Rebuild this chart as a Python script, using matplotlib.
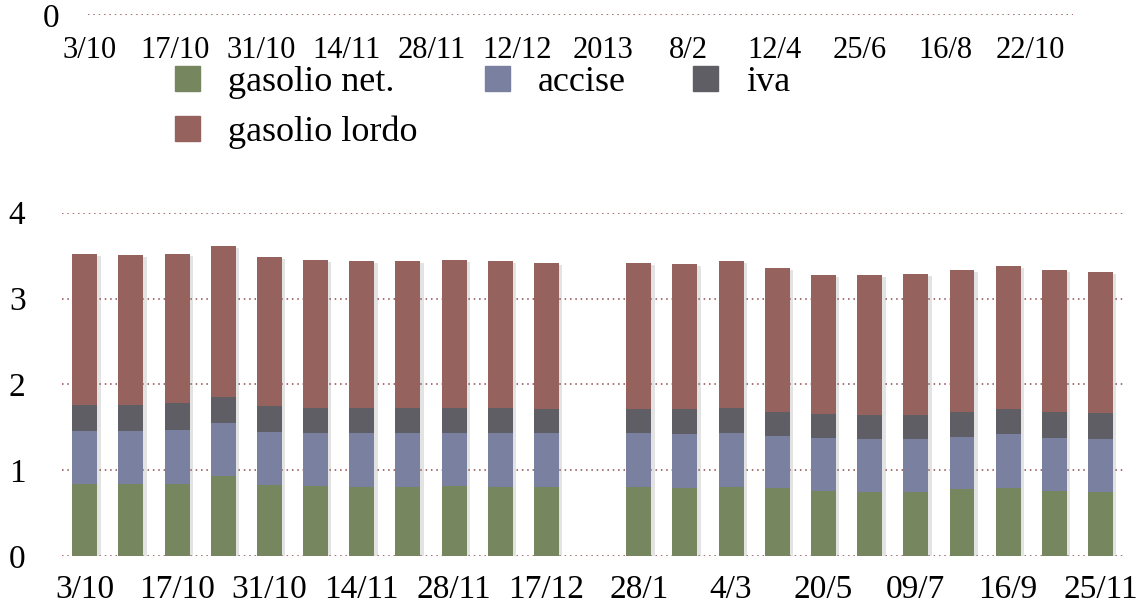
import matplotlib.pyplot as plt
import matplotlib.patheffects as pe
from matplotlib.patches import Patch
import numpy as np

plt.rcParams['font.family'] = ['Liberation Serif', 'DejaVu Serif']

# prezzi gasolio (euro/litro), uno slot vuoto tra 17/12 e 28/1
nan = np.nan
gasolio_net = [0.84, 0.84, 0.84, 0.94, 0.83, 0.82, 0.81, 0.81, 0.82, 0.81, 0.81, nan,
               0.81, 0.80, 0.81, 0.79, 0.76, 0.75, 0.75, 0.78, 0.80, 0.76, 0.75]
accise = [0.62, 0.62, 0.63, 0.61, 0.62, 0.62, 0.62, 0.62, 0.62, 0.63, 0.62, nan,
          0.62, 0.62, 0.62, 0.61, 0.62, 0.62, 0.62, 0.61, 0.62, 0.62, 0.62]
iva = [0.30, 0.30, 0.31, 0.30, 0.30, 0.29, 0.30, 0.30, 0.29, 0.29, 0.28, nan,
       0.28, 0.29, 0.30, 0.28, 0.28, 0.28, 0.28, 0.29, 0.29, 0.30, 0.30]
gasolio_lordo = [1.76, 1.75, 1.74, 1.76, 1.73, 1.72, 1.71, 1.71, 1.72, 1.71, 1.71, nan,
                 1.71, 1.69, 1.71, 1.68, 1.61, 1.62, 1.64, 1.65, 1.67, 1.65, 1.64]

tick_labels = ['3/10', '17/10', '31/10', '14/11', '28/11', '17/12',
               '28/1', '4/3', '20/5', '09/7', '16/9', '25/11']
top_labels = ['3/10', '17/10', '31/10', '14/11', '28/11', '12/12',
              '2013', '8/2', '12/4', '25/6', '16/8', '22/10']

colors = ['#768760', '#7a80a0', '#5f5e64', '#96625e']
grid_color = '#8c4848'
W, H = 1136, 609

fig = plt.figure(figsize=(W / 100, H / 100), dpi=100)

# grafico principale
ax = fig.add_axes([61.6 / W, 1 - 556.3 / H, 1062 / W, 343.6 / H])
x = np.arange(len(gasolio_net))
width = 0.54

net = np.array(gasolio_net)
acc = np.array(accise)
tax = np.array(iva)
lordo = np.array(gasolio_lordo)
total = net + acc + tax + lordo

# ombra sotto ogni colonna
ax.bar(x, total, width, color='white', zorder=1,
       path_effects=[pe.SimplePatchShadow(offset=(2.5, -1.5), shadow_rgbFace='#808080', alpha=0.22),
                     pe.Normal()])
ax.bar(x, net, width, color=colors[0], zorder=2)
ax.bar(x, acc, width, bottom=net, color=colors[1], zorder=2)
ax.bar(x, tax, width, bottom=net + acc, color=colors[2], zorder=2)
ax.bar(x, lordo, width, bottom=net + acc + tax, color=colors[3], zorder=2)

ax.set_xlim(-0.5, len(x) - 0.5)
ax.set_ylim(0, 4)
ax.set_yticks([0, 1, 2, 3, 4])
ax.set_xticks(x[::2], tick_labels)
ax.yaxis.grid(True, linestyle=(0, (1, 2.5)), color=grid_color, linewidth=1.1)
ax.set_axisbelow(True)
ax.tick_params(axis='both', length=0, labelsize=24)
ax.tick_params(axis='y', pad=26)
ax.tick_params(axis='x', pad=13)
for s in ax.spines.values():
    s.set_visible(False)

# asse superiore (resto di un altro grafico)
ax_top = fig.add_axes([88.3 / W, 1 - 15 / H, 985 / W, 0.3])
ax_top.set_xlim(-0.02, 11.5)
ax_top.set_ylim(0, 4)
ax_top.set_xticks(range(len(top_labels)), top_labels)
ax_top.set_yticks([0])
ax_top.yaxis.grid(True, linestyle=(0, (1, 2.5)), color=grid_color, linewidth=1.1)
ax_top.tick_params(axis='both', length=0, labelsize=22)
ax_top.tick_params(axis='y', pad=21, labelsize=24)
ax_top.tick_params(axis='x', pad=15)
for s in ax_top.spines.values():
    s.set_visible(False)
ax_top.patch.set_visible(False)

handles = [Patch(color=colors[0]), Patch(color=colors[3]), Patch(color=colors[1]), Patch(color=colors[2])]
labels = ['gasolio net.', 'gasolio lordo', 'accise', 'iva']
fig.legend(handles, labels, ncol=3, loc='upper left',
           bbox_to_anchor=(175 / W, 1 - 66 / H), frameon=False, fontsize=26,
           handlelength=0.69, handleheight=0.69, handletextpad=0.78,
           columnspacing=1.86, labelspacing=0.45, borderpad=0, borderaxespad=0)

fig.savefig('out.png', dpi=100)
